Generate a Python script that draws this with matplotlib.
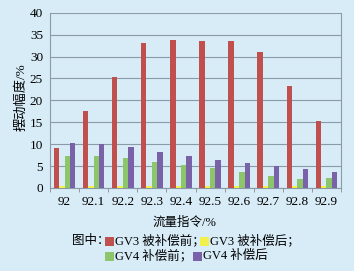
import matplotlib
matplotlib.use("Agg")
import matplotlib.pyplot as plt
import matplotlib.patches as mpatches
import numpy as np

categories = ["92", "92.1", "92.2", "92.3", "92.4", "92.5", "92.6", "92.7", "92.8", "92.9"]
gv3_before = [9.2, 17.5, 25.3, 33.0, 33.8, 33.6, 33.5, 31.0, 23.2, 15.4]
gv3_after = [0.5, 0.5, 0.5, 0.5, 0.5, 0.5, 0.5, 0.5, 0.5, 0.5]
gv4_before = [7.2, 7.2, 6.8, 6.0, 5.3, 4.5, 3.7, 2.8, 2.0, 2.2]
gv4_after = [10.2, 10.0, 9.4, 8.2, 7.2, 6.5, 5.7, 5.0, 4.3, 3.7]
series = [gv3_before, gv3_after, gv4_before, gv4_after]
colors = ["#c0504d", "#f2f04a", "#8cc56a", "#7a62a8"]
legend_labels = ["GV3 被补偿前；", "GV3 被补偿后；", "GV4 补偿前；", "GV4 补偿后"]

BG = "#d8ecf8"
FONTS = ["Liberation Serif", "Noto Sans CJK SC"]
plt.rcParams["font.family"] = FONTS

W, H = 354, 271
fig = plt.figure(figsize=(W / 100, H / 100), dpi=100, facecolor=BG)
ax = fig.add_axes([50 / W, 1 - 188 / H, (341 - 50) / W, (188 - 12.7) / H])
ax.set_facecolor(BG)

x = np.arange(len(categories))
bw = 0.185
for i, (vals, c) in enumerate(zip(series, colors)):
    ax.bar(x + (i - 1.5) * bw, vals, width=bw, color=c, zorder=3)

ax.set_xlim(-0.5, len(categories) - 0.5)
ax.set_ylim(0, 40)
ax.set_yticks(range(0, 41, 5))
ax.set_xticks(x)
ax.set_xticklabels(categories)
ax.set_xticks(np.arange(-0.5, len(categories), 1), minor=True)
ax.tick_params(axis="x", which="major", length=0, labelsize=9.5, pad=6)
ax.tick_params(axis="x", which="minor", length=3, color="#8a8a8a", direction="out")
ax.tick_params(axis="y", length=0, labelsize=9.5, pad=5)
ax.grid(axis="y", color="#8a9aa8", linewidth=0.8, zorder=0)
for s in ["left", "right", "bottom", "top"]:
    ax.spines[s].set_color("#8a9aa8")
    ax.spines[s].set_linewidth(0.8)
ax.spines["top"].set_visible(False)

fig.text(21 / W, 1 - 97 / H, "摆动幅度/%", rotation=90, ha="center", va="center", fontsize=9.5)
fig.text(184 / W, 1 - 223 / H, "流量指令/%", ha="center", va="center", fontsize=9)

def ftxt(px, py, s):
    fig.text(px / W, 1 - py / H, s, ha="left", va="center", fontsize=9)

def fsq(px, py, c):
    fig.add_artist(mpatches.Rectangle((px / W, 1 - (py + 4.5) / H), 9 / W, 9 / H,
                                      transform=fig.transFigure, color=c, lw=0))

y1, y2 = 241, 256
ftxt(72, y1, "图中：")
fsq(105, y1, colors[0]); ftxt(115, y1, legend_labels[0])
fsq(200, y1, colors[1]); ftxt(210, y1, legend_labels[1])
fsq(105, y2, colors[2]); ftxt(115, y2, legend_labels[2])
fsq(193, y2, colors[3]); ftxt(203, y2, legend_labels[3])

fig.savefig("out.png", dpi=100, facecolor=BG)
